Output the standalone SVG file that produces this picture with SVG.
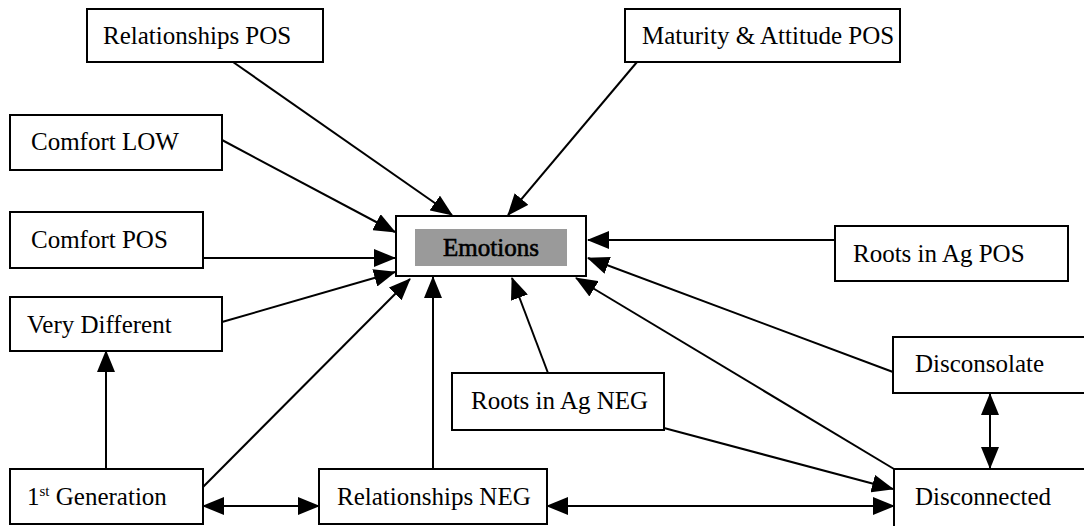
<svg xmlns="http://www.w3.org/2000/svg" width="1084" height="526" viewBox="0 0 1084 526">
  <style>
    .box { fill: #ffffff; stroke: #000000; stroke-width: 2; }
    .lbl { font-family: "Liberation Serif", "Times New Roman", serif; font-size: 25px; fill: #000000; }
    .sup { font-size: 15px; }
    .wire { stroke: #000000; stroke-width: 2; fill: none; marker-end: url(#head); }
    .both { marker-start: url(#head); }
  </style>
  <defs>
    <marker id="head" markerUnits="userSpaceOnUse" markerWidth="22" markerHeight="18" refX="21" refY="9" orient="auto-start-reverse" viewBox="0 0 22 18">
      <path d="M0,0 L22,9 L0,18 z" fill="#000000"/>
    </marker>
  </defs>

  <rect width="1084" height="526" fill="#ffffff"/>

  <g id="connectors">
    <line class="wire" x1="233" y1="62" x2="452" y2="215"/>
    <line class="wire" x1="637" y1="62" x2="508" y2="215"/>
    <line class="wire" x1="222" y1="140" x2="395" y2="232"/>
    <line class="wire" x1="203" y1="258" x2="395" y2="258"/>
    <line class="wire" x1="222" y1="322" x2="395" y2="272"/>
    <line class="wire" x1="203" y1="487" x2="410" y2="279"/>
    <line class="wire" x1="106" y1="469" x2="106" y2="351"/>
    <line class="wire both" x1="203" y1="506" x2="319" y2="506"/>
    <line class="wire" x1="433" y1="469" x2="433" y2="277"/>
    <line class="wire both" x1="547" y1="506" x2="894" y2="506"/>
    <line class="wire" x1="548" y1="373" x2="512" y2="278"/>
    <line class="wire" x1="664" y1="428" x2="893" y2="489"/>
    <line class="wire" x1="894" y1="469" x2="576" y2="278"/>
    <line class="wire" x1="893" y1="372" x2="588" y2="258"/>
    <line class="wire" x1="835" y1="240" x2="588" y2="240"/>
    <line class="wire both" x1="990" y1="394" x2="990" y2="468"/>
  </g>

  <g id="relationships-pos">
    <rect class="box" x="87" y="9" width="236" height="53"/>
    <text class="lbl" x="103" y="44">Relationships POS</text>
  </g>
  <g id="maturity-attitude-pos">
    <rect class="box" x="625" y="9" width="275" height="53"/>
    <text class="lbl" x="642" y="44">Maturity &amp; Attitude POS</text>
  </g>
  <g id="comfort-low">
    <rect class="box" x="10" y="115" width="212" height="55"/>
    <text class="lbl" x="31" y="150">Comfort LOW</text>
  </g>
  <g id="comfort-pos">
    <rect class="box" x="10" y="212" width="193" height="56"/>
    <text class="lbl" x="31" y="248">Comfort POS</text>
  </g>
  <g id="very-different">
    <rect class="box" x="10" y="297" width="212" height="54"/>
    <text class="lbl" x="27" y="333">Very Different</text>
  </g>
  <g id="first-generation">
    <rect class="box" x="10" y="469" width="193" height="55"/>
    <text class="lbl" x="27" y="505">1<tspan class="sup" dy="-9">st</tspan><tspan dy="9"> Generation</tspan></text>
  </g>
  <g id="relationships-neg">
    <rect class="box" x="319" y="469" width="228" height="55"/>
    <text class="lbl" x="337" y="505">Relationships NEG</text>
  </g>
  <g id="roots-in-ag-neg">
    <rect class="box" x="452" y="373" width="212" height="57"/>
    <text class="lbl" x="471" y="409">Roots in Ag NEG</text>
  </g>
  <g id="emotions">
    <rect class="box" x="396" y="216" width="190" height="60"/>
    <rect x="415" y="229" width="152" height="37" fill="#9a9a9a"/>
    <text class="lbl" x="491" y="256" text-anchor="middle" stroke="#000000" stroke-width="0.6">Emotions</text>
  </g>
  <g id="roots-in-ag-pos">
    <rect class="box" x="835" y="226" width="233" height="55"/>
    <text class="lbl" x="853" y="262">Roots in Ag POS</text>
  </g>
  <g id="disconsolate">
    <rect class="box" x="893" y="337" width="200" height="56"/>
    <text class="lbl" x="915" y="372">Disconsolate</text>
  </g>
  <g id="disconnected">
    <rect class="box" x="894" y="469" width="200" height="70"/>
    <text class="lbl" x="915" y="505">Disconnected</text>
  </g>
</svg>
